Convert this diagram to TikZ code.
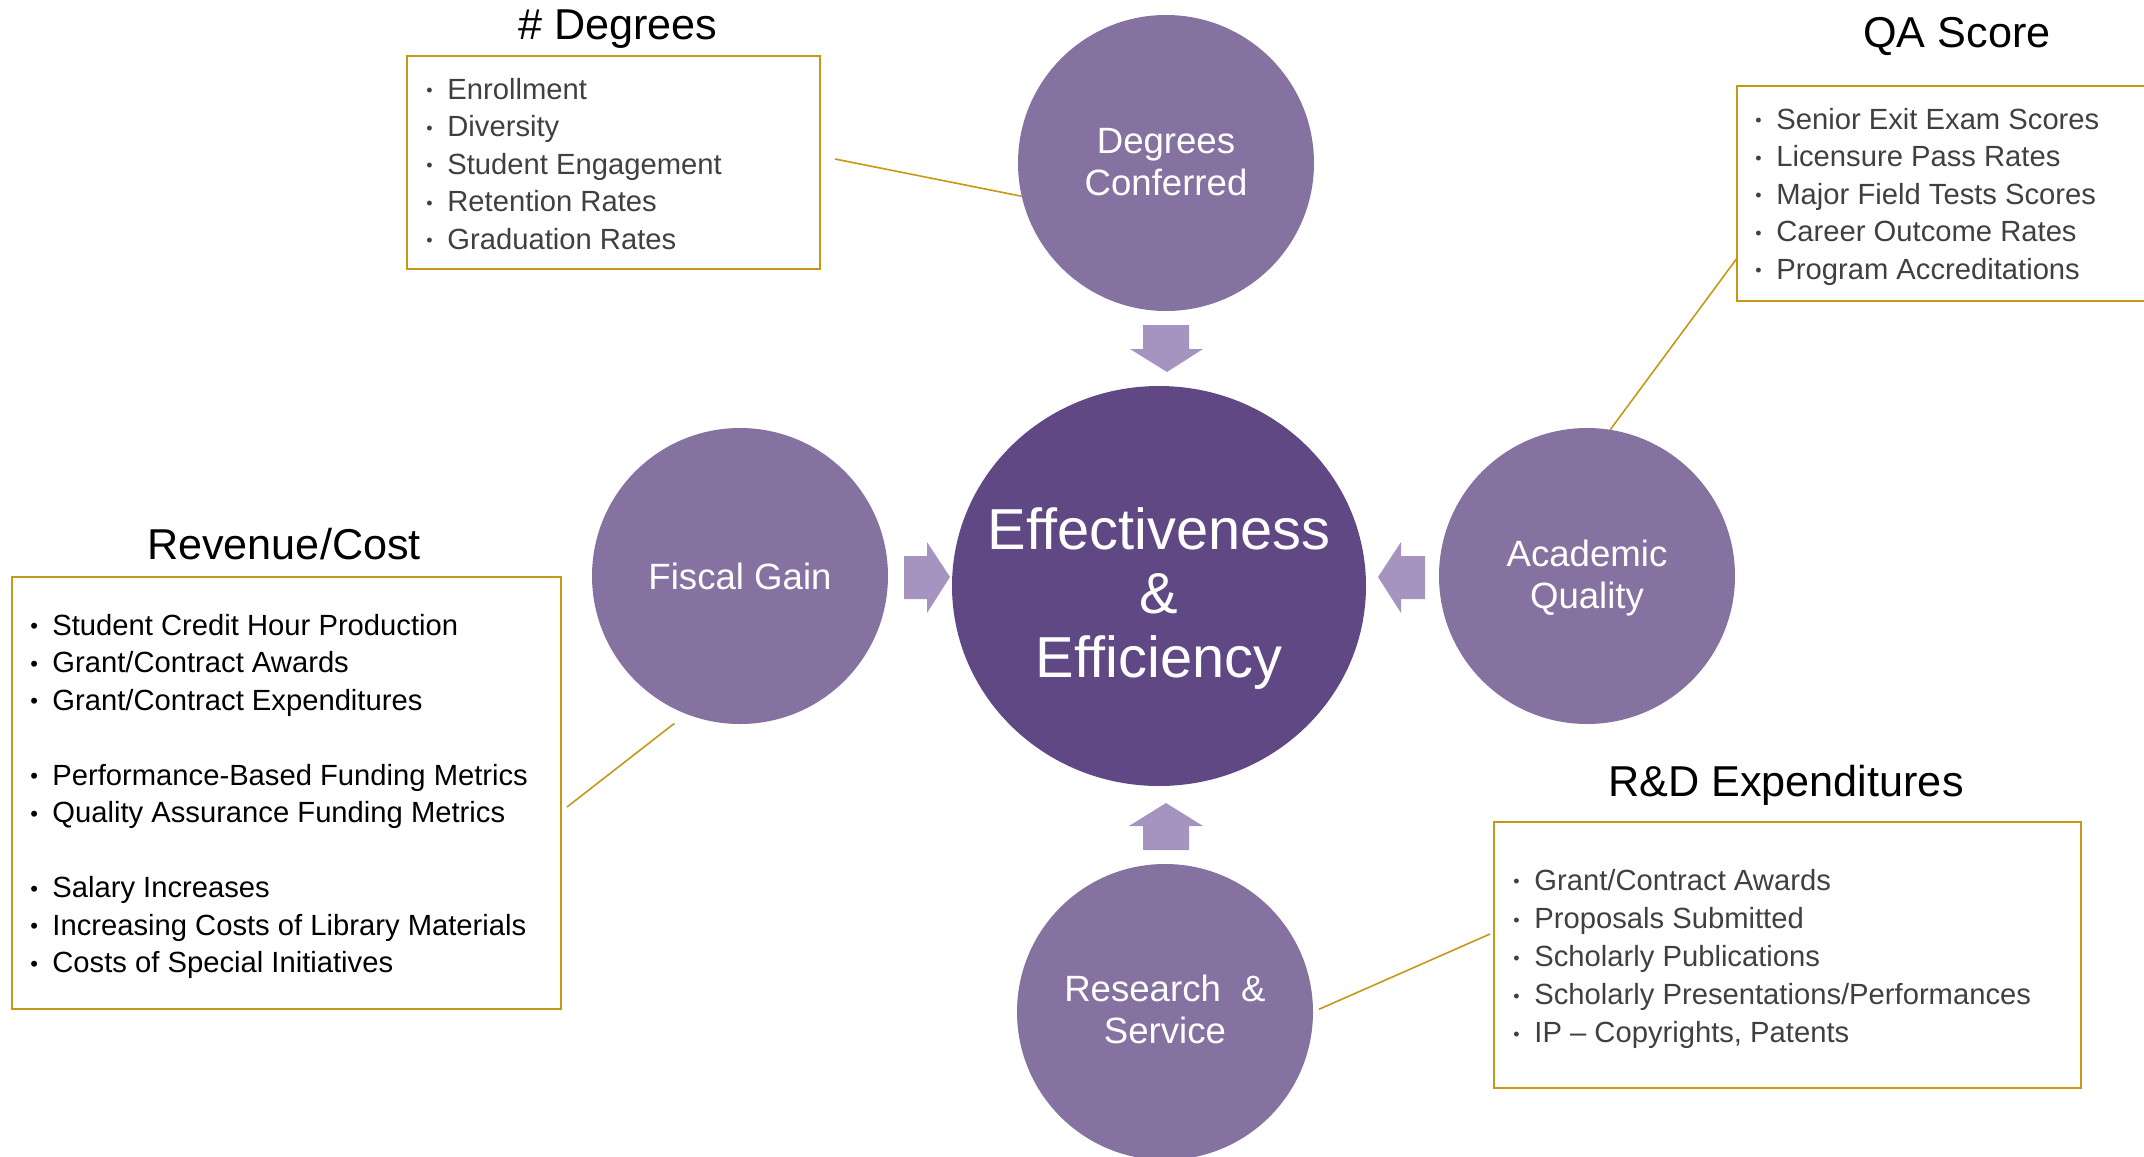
\documentclass[tikz,border=0pt]{standalone}
\usepackage{fontspec}
\setmainfont{Liberation Sans}
\usetikzlibrary{shapes.geometric,calc}
\definecolor{satc}{RGB}{133,114,160}
\definecolor{cenc}{RGB}{96,72,132}
\definecolor{arrc}{RGB}{166,148,192}
\definecolor{goldc}{RGB}{198,152,22}
\definecolor{graytxt}{RGB}{64,64,64}
\newcommand{\bl}{\llap{\raisebox{1.1pt}{\fontsize{9}{9}\selectfont\textbullet}\hspace{7.4pt}}}
\newcommand{\blk}{\llap{\raisebox{0.6pt}{\fontsize{11}{11}\selectfont\textbullet}\hspace{7.1pt}}}
\begin{document}
\begin{tikzpicture}[x=0.5pt,y=-0.5pt,
  sat/.style={circle,fill=satc,minimum size=148pt,inner sep=0pt,outer sep=0pt},
  sattext/.style={text=white,align=center,inner sep=0pt,font=\fontsize{18.3}{21}\selectfont},
  infobox/.style={draw=goldc,line width=1pt,inner sep=0pt,outer sep=0pt},
  ttl/.style={anchor=base,inner sep=0pt,font=\fontsize{21.6}{24}\selectfont},
  item/.style={anchor=base west,inner sep=0pt,text=graytxt,font=\fontsize{14.6}{17}\selectfont},
  itemk/.style={item,text=black},
  conn/.style={draw=goldc,line width=0.8pt},
  blockarrow/.style={fill=arrc,draw=none}
]
\useasboundingbox (0,0) rectangle (2144,1157);

% central ellipse
\node[ellipse,fill=cenc,minimum width=207pt,minimum height=200pt,inner sep=0pt] (ee) at (1159,586) {};
\node[text=white,align=center,inner sep=0pt,font=\fontsize{28.9}{32}\selectfont] (eetext) at (1159,599) {Effectiveness\\\&\\Efficiency};

% satellites
\node[sat] (dc) at (1166,163) {};
\node[sattext] (dctext) at (1166,162) {Degrees\\Conferred};
\node[sat] (fg) at (740,576) {};
\node[sattext] (fgtext) at (740,576) {Fiscal Gain};
\node[sat] (aq) at (1587,576) {};
\node[sattext] (aqtext) at (1587,578) {Academic\\Quality};
\node[sat] (rs) at (1165,1012) {};
\node[sattext] (rstext) at (1165,1009) {Research\ \ \&\\Service};

% block arrows
\fill[blockarrow] (1143,325) -- (1189,325) -- (1189,349) -- (1203,349) -- (1167,372) -- (1130,349) -- (1143,349) -- cycle;
\fill[blockarrow] (1143,850) -- (1189,850) -- (1189,826) -- (1203,826) -- (1166,803) -- (1129,826) -- (1143,826) -- cycle;
\fill[blockarrow] (904,556) -- (927,556) -- (927,542) -- (950,577) -- (927,613) -- (927,599) -- (904,599) -- cycle;
\fill[blockarrow] (1425,556) -- (1401,556) -- (1401,542) -- (1378,577) -- (1401,613) -- (1401,599) -- (1425,599) -- cycle;

% boxes
\node[infobox,minimum width=206.5pt,minimum height=106.5pt] (degbox) at (613.5,162.5) {};
\node[infobox,minimum width=211.5pt,minimum height=107.5pt] (qabox) at (1948.5,193.5) {};
\node[infobox,minimum width=274.5pt,minimum height=216pt] (revbox) at (286.5,793) {};
\node[infobox,minimum width=293.5pt,minimum height=133pt] (rdbox) at (1787.5,955) {};

% titles
\node[ttl] (degttl) at (618,39) {\# Degrees};
\node[ttl] (qattl) at (1957,47) {QA Score};
\node[ttl] (revttl) at (284,559) {Revenue/Cost};
\node[ttl] (rdttl) at (1786,796) {R\&D Expenditures};

% degrees items
\node[item] (d1) at (447,99) {\bl Enrollment};
\node[item] (d2) at (447,136.5) {\bl Diversity};
\node[item] (d3) at (447,174) {\bl Student Engagement};
\node[item] (d4) at (447,211.5) {\bl Retention Rates};
\node[item] (d5) at (447,249) {\bl Graduation Rates};

% QA items
\node[item] (q1) at (1776,129) {\bl Senior Exit Exam Scores};
\node[item] (q2) at (1776,166.5) {\bl Licensure Pass Rates};
\node[item] (q3) at (1776,204) {\bl Major Field Tests Scores};
\node[item] (q4) at (1776,241.5) {\bl Career Outcome Rates};
\node[item] (q5) at (1776,279) {\bl Program Accreditations};

% revenue items
\node[itemk] (r1) at (52,635) {\blk Student Credit Hour Production};
\node[itemk] (r2) at (52,672.5) {\blk Grant/Contract Awards};
\node[itemk] (r3) at (52,710) {\blk Grant/Contract Expenditures};
\node[itemk] (r4) at (52,785) {\blk Performance-Based Funding Metrics};
\node[itemk] (r5) at (52,822.5) {\blk Quality Assurance Funding Metrics};
\node[itemk] (r6) at (52,897.5) {\blk Salary Increases};
\node[itemk] (r7) at (52,935) {\blk Increasing Costs of Library Materials};
\node[itemk] (r8) at (52,972.5) {\blk Costs of Special Initiatives};

% R&D items
\node[item] (p1) at (1534,890) {\bl Grant/Contract Awards};
\node[item] (p2) at (1534,928.5) {\bl Proposals Submitted};
\node[item] (p3) at (1534,966.5) {\bl Scholarly Publications};
\node[item] (p4) at (1534,1004.5) {\bl Scholarly Presentations/Performances};
\node[item] (p5) at (1534,1042.5) {\bl IP -- Copyrights, Patents};

% connectors
\coordinate (degend) at ($(degbox.east)+(15,-3.5)$);
\draw[conn] (degend) -- (dc.193);
\draw[conn] (qabox.197) -- (aq.81);
\coordinate (revend) at ($(revbox.east)+(6,14)$);
\coordinate (fgend) at ($(fg.center)!1.09!(fg.246)$);
\draw[conn] (revend) -- (fgend);
\coordinate (rsend) at ($(rs.center)!1.04!(rs.1)$);
\coordinate (rdend) at ($(rdbox.west)+(-4,-21)$);
\draw[conn] (rsend) -- (rdend);
\end{tikzpicture}
\end{document}
